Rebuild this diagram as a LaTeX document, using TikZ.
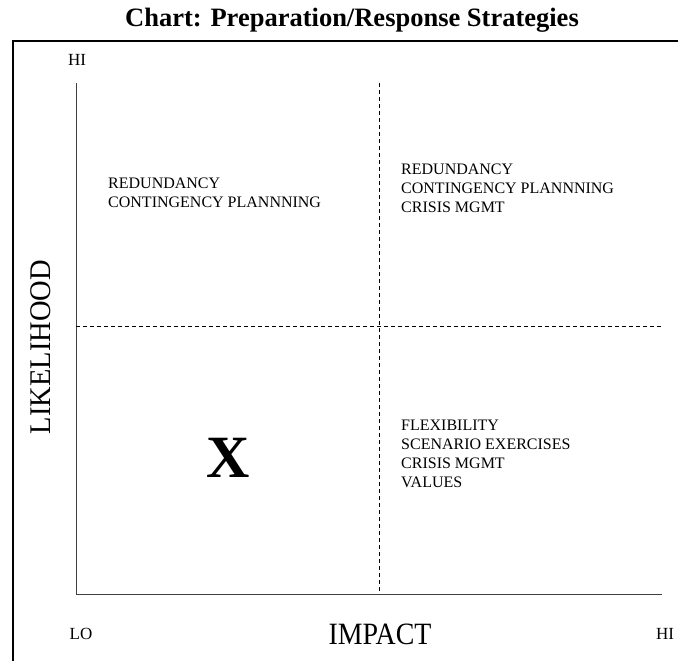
\documentclass[tikz,border=0pt]{standalone}
\usepackage{fontspec}
\setmainfont{Liberation Serif}
\begin{document}
\begin{tikzpicture}[x=1pt,y=-1pt,
  axisline/.style={line width=1pt, draw=black!75},
  divline/.style={line width=1pt, dashed, dash pattern=on 4pt off 3pt},
  frameline/.style={line width=1.5pt},
  quad/.style={anchor=north west, inner sep=0pt, align=left, font=\fontsize{16}{19}\selectfont},
  tick/.style={inner sep=0pt, font=\fontsize{17}{20}\selectfont}]
\useasboundingbox (0,0) rectangle (678,661);
% frame
\coordinate (fbl) at (13,661);
\coordinate (ftl) at (13,41);
\coordinate (ftr) at (678,41);
\draw[frameline] (fbl) -- (ftl) -- (ftr);
% title
\node[font=\fontsize{26.5}{30}\selectfont\bfseries, inner sep=0pt] (title) at (352,20) {Chart: Preparation/Response Strategies};
% axes
\coordinate (ytop) at (76,83);
\coordinate (origin) at (76,594);
\coordinate (xend) at (662,594);
\coordinate (vtop) at (379,83);
\coordinate (vbot) at (379,594);
\coordinate (hl) at (76,326);
\coordinate (hr) at (662,326);
\draw[axisline] (ytop) -- (origin) -- (xend);
\draw[divline] (vtop) -- (vbot);
\draw[divline] (hl) -- (hr);
% labels
\node[tick] (hitop) at (77,60) {HI};
\node[tick] (lo) at (81,634) {LO};
\node[tick] (hibot) at (665,634) {HI};
\node[font=\fontsize{31}{34}\selectfont, inner sep=0pt, xscale=0.9] (impact) at (380,634) {IMPACT};
\node[font=\fontsize{30}{34}\selectfont, inner sep=0pt, rotate=90, xscale=0.95] (likely) at (41,347) {LIKELIHOOD};
\node[font=\fontsize{60}{60}\selectfont\bfseries, inner sep=0pt] (x) at (228,458) {X};
% quadrant texts
\node[quad] (ul) at (108,178) {REDUNDANCY\\CONTINGENCY PLANNNING};
\node[quad] (ur) at (401,164) {REDUNDANCY\\CONTINGENCY PLANNNING\\CRISIS MGMT};
\node[quad] (lr) at (401,420) {FLEXIBILITY\\SCENARIO EXERCISES\\CRISIS MGMT\\VALUES};
\end{tikzpicture}
\end{document}
